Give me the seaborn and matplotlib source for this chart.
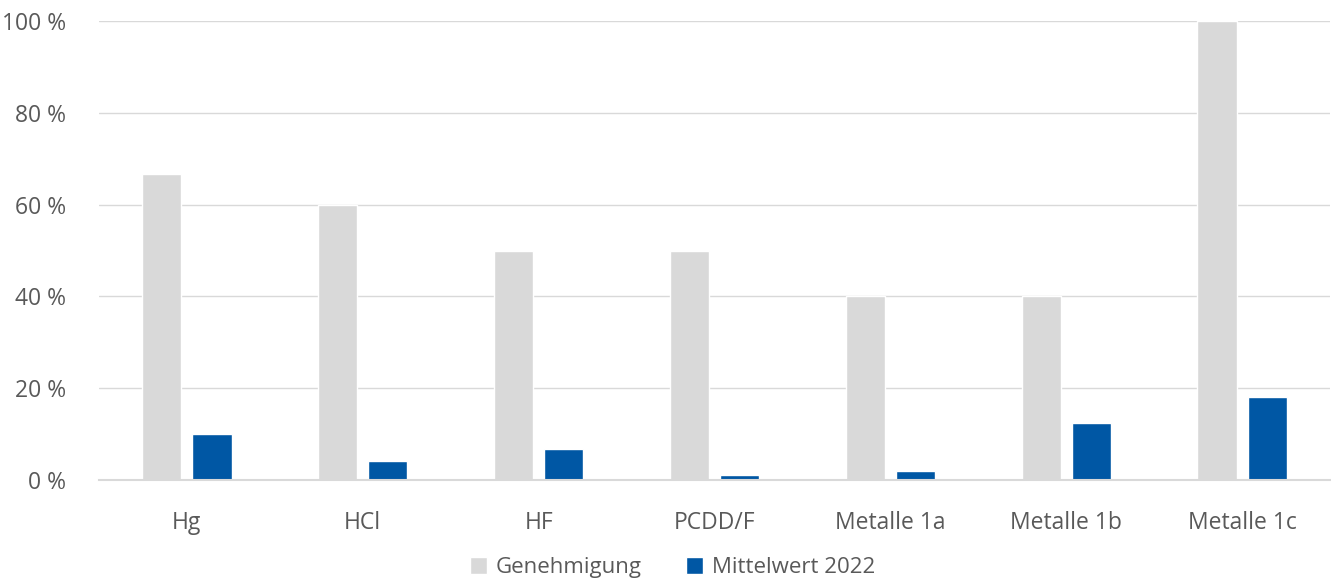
import matplotlib
matplotlib.use("Agg")
import matplotlib.pyplot as plt
from matplotlib.ticker import FuncFormatter
import seaborn as sns
import pandas as pd

categories = ["Hg", "HCl", "HF", "PCDD/F", "Metalle 1a", "Metalle 1b", "Metalle 1c"]
genehmigung = [66.7, 60, 50, 50, 40, 40, 100]
mittelwert_2022 = [10.0, 4.1, 6.7, 1.0, 2.0, 12.5, 18.0]
series = ["Genehmigung", "Mittelwert 2022"]
colors = ["#d9d9d9", "#0057a4"]

df = pd.DataFrame({
    "Kategorie": categories * 2,
    "Wert": genehmigung + mittelwert_2022,
    "Serie": [series[0]] * len(categories) + [series[1]] * len(categories),
})

sns.set_style("white")
plt.rcParams["font.family"] = ["Open Sans", "DejaVu Sans"]
text_color = "#595959"

fig = plt.figure(figsize=(13.31, 5.85), dpi=100)
ax = fig.add_axes([99 / 1331, 105 / 585, 1231 / 1331, 459 / 585])

sns.barplot(data=df, x="Kategorie", y="Wert", hue="Serie", palette=colors,
            saturation=1, width=0.57, gap=0.22, ax=ax, legend=True)

ax.set_ylim(0, 100)
ax.set_xlim(-0.5, len(categories) - 0.5)
ax.set_yticks(range(0, 101, 20))
ax.yaxis.set_major_formatter(FuncFormatter(lambda v, p: f"{v:.0f} %"))
ax.grid(axis="y", color="#d9d9d9", linewidth=1)
ax.set_axisbelow(True)
for s in ["top", "right", "left"]:
    ax.spines[s].set_visible(False)
ax.spines["bottom"].set_color("#d9d9d9")
ax.spines["bottom"].set_linewidth(1.5)
ax.set_xlabel("")
ax.set_ylabel("")
ax.tick_params(axis="both", length=0, labelsize=16.5, colors=text_color)
ax.tick_params(axis="x", pad=22)
ax.tick_params(axis="y", pad=24)

ax.legend(loc="upper center", bbox_to_anchor=(0.466, -0.125), ncol=2, frameon=False,
          fontsize=16, labelcolor=text_color, handlelength=0.75, handleheight=0.75,
          handletextpad=0.4, columnspacing=2.0)

fig.savefig("out.png", dpi=100)
